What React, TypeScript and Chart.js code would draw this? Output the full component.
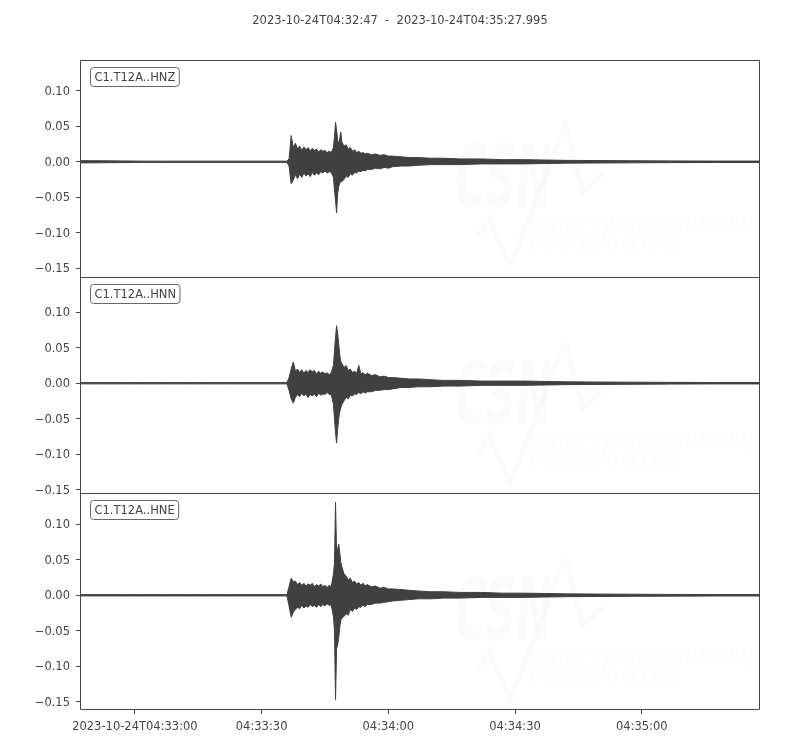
import React, { useEffect, useRef } from 'react';
import { Chart, registerables } from 'chart.js';

Chart.register(...registerables);

const TITLE = '2023-10-24T04:32:47  -  2023-10-24T04:35:27.995';
const channels = ['C1.T12A..HNZ', 'C1.T12A..HNN', 'C1.T12A..HNE'];
const xTickValues = [13, 43, 73, 103, 133];
const xTickLabels = ['2023-10-24T04:33:00', '04:33:30', '04:34:00', '04:34:30', '04:35:00'];
const yTickValues = [-0.15, -0.1, -0.05, 0, 0.05, 0.1];
const yLimits = [
  [-0.162, 0.1435],
  [-0.155, 0.15],
  [-0.1615, 0.1435],
];
const X_END = 160.995;

// seconds after 2023-10-24T04:32:47
const times = [
  0, 5, 10, 15, 20, 25, 30, 35, 40, 45,
  49, 49.5,
  50, 50.5, 51, 51.5, 52, 52.5, 53, 53.5, 54, 54.5,
  55, 55.5, 56, 56.5, 57, 57.5, 58, 58.5, 59, 59.5,
  60, 60.25, 60.5, 60.75, 61, 61.25, 61.5, 61.75, 62,
  62.5, 63, 63.5, 64, 64.5, 65, 65.5, 66, 66.5, 67, 67.5, 68,
  69, 70, 71, 72, 73, 74,
  76, 78, 80,
  83, 86, 90, 95, 100,
  105, 110, 115, 120,
  130, 140, 150, 161,
];

const hnzMax = [
  0.0016, 0.0014, 0.0012, 0.0009, 0.0009, 0.0009, 0.0009, 0.0009, 0.0009, 0.0009,
  0.0009, 0.004,
  0.037, 0.02, 0.026, 0.018, 0.022, 0.016, 0.021, 0.017, 0.02, 0.015,
  0.019, 0.016, 0.018, 0.014, 0.017, 0.015, 0.016, 0.013, 0.015, 0.013,
  0.02, 0.035, 0.056, 0.045, 0.03, 0.025, 0.033, 0.042, 0.028,
  0.022, 0.024, 0.018, 0.02, 0.015, 0.017, 0.013, 0.015, 0.012, 0.013, 0.011, 0.012,
  0.01, 0.011, 0.009, 0.01, 0.008, 0.008,
  0.007, 0.006, 0.006,
  0.005, 0.005, 0.004, 0.004, 0.003,
  0.003, 0.0025, 0.002, 0.0018,
  0.0015, 0.0012, 0.001, 0.001,
];
const hnzMin = [
  -0.0016, -0.0014, -0.0012, -0.0009, -0.0009, -0.0009, -0.0009, -0.0009, -0.0009, -0.0009,
  -0.0009, -0.006,
  -0.031, -0.026, -0.018, -0.024, -0.017, -0.022, -0.016, -0.02, -0.017, -0.021,
  -0.015, -0.019, -0.016, -0.018, -0.014, -0.016, -0.013, -0.016, -0.014, -0.015,
  -0.022, -0.04, -0.055, -0.072, -0.045, -0.035, -0.03, -0.028, -0.028,
  -0.025, -0.02, -0.022, -0.017, -0.019, -0.015, -0.016, -0.013, -0.014, -0.012, -0.013, -0.011,
  -0.011, -0.009, -0.01, -0.008, -0.009, -0.007,
  -0.006, -0.006, -0.005,
  -0.004, -0.004, -0.004, -0.003, -0.003,
  -0.003, -0.0025, -0.002, -0.0018,
  -0.0015, -0.0012, -0.001, -0.001,
];

const hnnMax = [
  0.0009, 0.0009, 0.0009, 0.0009, 0.0009, 0.0009, 0.0009, 0.0009, 0.0009, 0.0009,
  0.0009, 0.008,
  0.02, 0.03, 0.017, 0.02, 0.015, 0.019, 0.014, 0.018, 0.015, 0.019,
  0.016, 0.018, 0.013, 0.017, 0.014, 0.016, 0.013, 0.015, 0.012, 0.015,
  0.025, 0.045, 0.065, 0.081, 0.07, 0.055, 0.04, 0.03, 0.028,
  0.022, 0.025, 0.018, 0.02, 0.015, 0.017, 0.014, 0.025, 0.013, 0.015, 0.012, 0.014,
  0.011, 0.012, 0.009, 0.01, 0.008, 0.008,
  0.007, 0.006, 0.006,
  0.005, 0.004, 0.004, 0.003, 0.003,
  0.003, 0.0025, 0.002, 0.0018,
  0.0015, 0.0012, 0.001, 0.001,
];
const hnnMin = [
  -0.0009, -0.0009, -0.0009, -0.0009, -0.0009, -0.0009, -0.0009, -0.0009, -0.0009, -0.0009,
  -0.0009, -0.01,
  -0.022, -0.028, -0.02, -0.016, -0.019, -0.014, -0.018, -0.015, -0.02, -0.016,
  -0.018, -0.015, -0.019, -0.014, -0.017, -0.015, -0.016, -0.013, -0.016, -0.016,
  -0.03, -0.05, -0.07, -0.084, -0.065, -0.05, -0.04, -0.035, -0.03,
  -0.025, -0.02, -0.022, -0.017, -0.018, -0.015, -0.016, -0.013, -0.015, -0.012, -0.014, -0.012,
  -0.012, -0.01, -0.01, -0.009, -0.009, -0.008,
  -0.006, -0.006, -0.005,
  -0.005, -0.004, -0.004, -0.003, -0.003,
  -0.003, -0.0025, -0.002, -0.0018,
  -0.0015, -0.0012, -0.001, -0.001,
];

const hneMax = [
  0.0009, 0.0009, 0.0009, 0.0009, 0.0009, 0.0009, 0.0009, 0.0009, 0.0009, 0.0009,
  0.0009, 0.012,
  0.024, 0.019, 0.02, 0.015, 0.018, 0.014, 0.017, 0.013, 0.016, 0.014,
  0.017, 0.012, 0.015, 0.013, 0.016, 0.012, 0.014, 0.011, 0.014, 0.012,
  0.03, 0.045, 0.131, 0.06, 0.065, 0.072, 0.06, 0.046, 0.04,
  0.03, 0.027, 0.022, 0.024, 0.018, 0.02, 0.016, 0.018, 0.014, 0.017, 0.013, 0.015,
  0.012, 0.013, 0.01, 0.011, 0.009, 0.009,
  0.008, 0.007, 0.006,
  0.005, 0.005, 0.004, 0.004, 0.003,
  0.003, 0.0025, 0.002, 0.0018,
  0.0015, 0.0012, 0.001, 0.001,
];
const hneMin = [
  -0.0009, -0.0009, -0.0009, -0.0009, -0.0009, -0.0009, -0.0009, -0.0009, -0.0009, -0.0009,
  -0.0009, -0.015,
  -0.031, -0.024, -0.02, -0.017, -0.019, -0.014, -0.018, -0.015, -0.017, -0.013,
  -0.016, -0.014, -0.017, -0.013, -0.016, -0.013, -0.015, -0.012, -0.014, -0.014,
  -0.03, -0.05, -0.147, -0.075, -0.07, -0.06, -0.045, -0.035, -0.032,
  -0.03, -0.026, -0.028, -0.02, -0.023, -0.018, -0.02, -0.016, -0.017, -0.014, -0.016, -0.013,
  -0.013, -0.011, -0.011, -0.01, -0.009, -0.008,
  -0.007, -0.006, -0.005,
  -0.005, -0.004, -0.004, -0.003, -0.003,
  -0.003, -0.0025, -0.002, -0.0018,
  -0.0015, -0.0012, -0.001, -0.001,
];

const traceMax = [hnzMax, hnnMax, hneMax];
const traceMin = [hnzMin, hnnMin, hneMin];
const axisIds = ['yZ', 'yN', 'yE'];

const TRACE_COLOR = '#404040';
const TEXT_COLOR = '#444444';
const FONT = '"DejaVu Sans", sans-serif';
const FONT_SIZE = 11.5;

function fmtY(v: number): string {
  const s = Math.abs(v) < 1e-9 ? '0.00' : v.toFixed(2);
  return s.replace('-', '\u2212');
}

const decorPlugin = {
  id: 'decor',
  beforeDatasetsDraw(chart: any) {
    const ctx = chart.ctx as CanvasRenderingContext2D;
    const ca = chart.chartArea;
    axisIds.forEach((id) => {
      const sc = chart.scales[id];
      const top = sc.top;
      ctx.save();
      ctx.beginPath();
      ctx.rect(ca.left, sc.top, ca.right - ca.left, sc.bottom - sc.top);
      ctx.clip();
      const wm = 'rgba(0,0,0,0.016)';
      ctx.fillStyle = wm;
      ctx.strokeStyle = wm;
      // CSN letters
      ctx.save();
      ctx.translate(455, top + 147);
      ctx.scale(0.49, 1);
      ctx.font = `italic bold 88px ${FONT}`;
      ctx.textBaseline = 'alphabetic';
      ctx.fillText('CSN', 0, 0);
      ctx.restore();
      // wave
      ctx.lineWidth = 5;
      ctx.lineJoin = 'miter';
      ctx.beginPath();
      ctx.moveTo(477, top + 177);
      ctx.lineTo(489, top + 157);
      ctx.lineTo(510, top + 207);
      ctx.lineTo(565, top + 65);
      ctx.lineTo(583, top + 132);
      ctx.lineTo(603, top + 113);
      ctx.stroke();
      // institution text
      const lines = [
        { t: 'CENTRO SISMOLÓGICO NACIONAL', w: 225, y: top + 172 },
        { t: 'UNIVERSIDAD DE CHILE', w: 150, y: top + 190 },
      ];
      ctx.font = `italic 21px ${FONT}`;
      lines.forEach((l) => {
        const mw = ctx.measureText(l.t).width;
        ctx.save();
        ctx.translate(530, l.y);
        ctx.scale(l.w / mw, 1);
        ctx.fillText(l.t, 0, 0);
        ctx.restore();
      });
      ctx.restore();
    });
  },
  afterDraw(chart: any) {
    const ctx = chart.ctx as CanvasRenderingContext2D;
    const ca = chart.chartArea;
    ctx.save();
    ctx.lineWidth = 1;
    const l = Math.round(ca.left) + 0.5;
    const r = Math.round(ca.right) - 0.5;
    const bottom = Math.round(ca.bottom) - 0.5;
    ctx.strokeStyle = '#444444';
    ctx.beginPath();
    ctx.moveTo(l, Math.round(ca.top) + 0.5);
    ctx.lineTo(l, bottom);
    ctx.lineTo(r, bottom);
    ctx.lineTo(r, Math.round(ca.top) + 0.5);
    ctx.stroke();
    axisIds.forEach((id, i) => {
      const sc = chart.scales[id];
      const t = Math.round(sc.top) + 0.5;
      ctx.strokeStyle = '#444444';
      ctx.beginPath();
      ctx.moveTo(l, t);
      ctx.lineTo(r, t);
      ctx.stroke();
      // channel label box
      ctx.font = `${FONT_SIZE}px ${FONT}`;
      const tw = ctx.measureText(channels[i]).width;
      const bx = Math.round(ca.left) + 10.5;
      const by = Math.round(sc.top) + 7.5;
      ctx.beginPath();
      (ctx as any).roundRect(bx, by, tw + 8, 19, 3);
      ctx.fillStyle = '#ffffff';
      ctx.fill();
      ctx.strokeStyle = '#666666';
      ctx.stroke();
      ctx.fillStyle = TEXT_COLOR;
      ctx.textAlign = 'left';
      ctx.textBaseline = 'middle';
      ctx.fillText(channels[i], bx + 4, by + 11);
    });
    // title
    ctx.font = `${FONT_SIZE}px ${FONT}`;
    ctx.fillStyle = TEXT_COLOR;
    ctx.textAlign = 'center';
    ctx.textBaseline = 'middle';
    ctx.fillText(TITLE, 400, 21);
    ctx.restore();
  },
};

function yScale(i: number, weight: number) {
  return {
    type: 'linear',
    position: 'left',
    stack: 'traces',
    stackWeight: 1,
    weight,
    min: yLimits[i][0],
    max: yLimits[i][1],
    afterBuildTicks: (s: any) => {
      s.ticks = yTickValues.map((v) => ({ value: v }));
    },
    afterFit: (s: any) => {
      s.width = 80;
    },
    grid: { drawOnChartArea: false, drawTicks: true, tickLength: 4, color: '#444444', lineWidth: 1 },
    border: { display: false },
    ticks: {
      autoSkip: false,
      color: TEXT_COLOR,
      font: { family: FONT, size: FONT_SIZE },
      padding: 6,
      labelOffset: 1,
      callback: (v: number) => fmtY(v),
    },
  };
}

export default function App() {
  const ref = useRef<HTMLCanvasElement | null>(null);
  useEffect(() => {
    document.body.style.margin = '0';
    const canvas = ref.current;
    if (!canvas) return;
    const datasets: any[] = [];
    axisIds.forEach((id, i) => {
      datasets.push({
        label: channels[i] + ' max',
        data: times.map((t, j) => ({ x: t, y: traceMax[i][j] })),
        yAxisID: id,
        xAxisID: 'x',
        borderColor: TRACE_COLOR,
        backgroundColor: TRACE_COLOR,
        borderWidth: 1,
        pointRadius: 0,
        tension: 0,
        fill: '+1',
      });
      datasets.push({
        label: channels[i] + ' min',
        data: times.map((t, j) => ({ x: t, y: traceMin[i][j] })),
        yAxisID: id,
        xAxisID: 'x',
        borderColor: TRACE_COLOR,
        backgroundColor: TRACE_COLOR,
        borderWidth: 1,
        pointRadius: 0,
        tension: 0,
        fill: false,
      });
    });
    const chart = new Chart(canvas, {
      type: 'line',
      data: { datasets },
      plugins: [decorPlugin],
      options: {
        animation: false,
        responsive: false,
        devicePixelRatio: 1,
        layout: { padding: { top: 60, right: 40, left: 0, bottom: 0 } },
        plugins: { legend: { display: false }, tooltip: { enabled: false }, title: { display: false } },
        scales: {
          x: {
            type: 'linear',
            position: 'bottom',
            min: 0,
            max: X_END,
            afterBuildTicks: (s: any) => {
              s.ticks = xTickValues.map((v) => ({ value: v }));
            },
            afterFit: (s: any) => {
              s.height = 40;
            },
            grid: { drawOnChartArea: false, drawTicks: true, tickLength: 4, color: '#444444', lineWidth: 1 },
            border: { display: false },
            ticks: {
              autoSkip: false,
              maxRotation: 0,
              color: TEXT_COLOR,
              font: { family: FONT, size: FONT_SIZE },
              padding: 6,
              callback: (v: number) => {
                const k = xTickValues.indexOf(v);
                return k >= 0 ? xTickLabels[k] : '';
              },
            },
          },
          yZ: yScale(0, 3),
          yN: yScale(1, 2),
          yE: yScale(2, 1),
        } as any,
      },
    } as any);
    return () => chart.destroy();
  }, []);
  return <canvas ref={ref} width={800} height={750} style={{ display: 'block', width: 800, height: 750 }} />;
}
